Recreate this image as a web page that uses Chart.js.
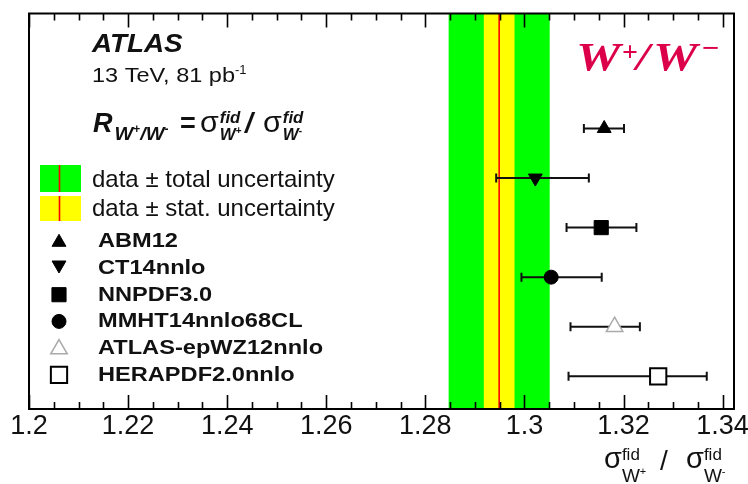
<!DOCTYPE html>
<html>
<head>
<meta charset="utf-8">
<title>W+/W- fiducial cross-section ratio</title>
<script src="https://cdn.jsdelivr.net/npm/chart.js@4.4.0/dist/chart.umd.min.js"></script>
<style>
  html, body { margin: 0; padding: 0; background: #fff; }
  canvas { display: block; }
</style>
</head>
<body>
<canvas id="ratio" width="748" height="484"></canvas>
<script>
// ---- measurement and predictions ----
const models = ['ABM12', 'CT14nnlo', 'NNPDF3.0', 'MMHT14nnlo68CL', 'ATLAS-epWZ12nnlo', 'HERAPDF2.0nnlo'];
const modelRatio = [1.3161, 1.3022, 1.3155, 1.3054, 1.3182, 1.3270];
const modelErrLow = [1.3120, 1.2943, 1.3085, 1.2994, 1.3093, 1.3089];
const modelErrHigh = [1.3201, 1.3130, 1.3226, 1.3156, 1.3233, 1.3368];

const dataRatio = 1.2949;
const dataStat = 0.0031;
const dataTotal = 0.0102;

const xTickValues = [1.2, 1.22, 1.24, 1.26, 1.28, 1.3, 1.32, 1.34];
const xTickLabels = ['1.2', '1.22', '1.24', '1.26', '1.28', '1.3', '1.32', '1.34'];

const SANS = '"Liberation Sans", Arial, sans-serif';
const SERIF = '"Liberation Serif", "Times New Roman", serif';
const INK = '#111';

// marker look for each model, same order as models
const markers = [
  { style: 'triangle', rot: 0,   r: 8,    fill: '#000', line: '#000', lw: 1 },
  { style: 'triangle', rot: 180, r: 8,    fill: '#000', line: '#000', lw: 1 },
  { style: 'rect',     rot: 0,   r: 10,   fill: '#000', line: '#000', lw: 1 },
  { style: 'circle',   rot: 0,   r: 7,    fill: '#000', line: '#000', lw: 1 },
  { style: 'triangle', rot: 0,   r: 9.5,  fill: '#fff', line: '#aaa', lw: 1.5 },
  { style: 'rect',     rot: 0,   r: 11.5, fill: '#fff', line: '#000', lw: 2 }
];

// minor ticks every 0.005, majors every 0.02
const minorTicks = [];
for (let k = 0; k <= 28; k++) minorTicks.push(+(1.2 + k * 0.005).toFixed(3));

function put(ctx, str, x, y, font, sx = 1, color = INK) {
  ctx.save();
  ctx.font = font;
  ctx.fillStyle = color;
  ctx.textBaseline = 'alphabetic';
  ctx.textAlign = 'left';
  ctx.translate(x, y);
  ctx.scale(sx, 1);
  ctx.fillText(str, 0, 0);
  const w = ctx.measureText(str).width * sx;
  ctx.restore();
  return x + w;
}

// sigma with stacked "fid" superscript and W± subscript
function sigma(ctx, x, base, o) {
  const e = put(ctx, 'σ', x, base, o.sigFont, o.sx);
  const a = put(ctx, 'fid', e + o.gap, base - o.up, o.supFont, o.sx);
  const w = put(ctx, 'W', e + o.gap, base + o.down, o.subFont, o.sx);
  const b = put(ctx, o.sign, w, base + o.down - o.signUp, o.signFont, 1);
  return Math.max(a, b);
}

function marker(ctx, m, x, y) {
  ctx.save();
  ctx.fillStyle = m.fill;
  ctx.strokeStyle = m.line;
  ctx.lineWidth = m.lw;
  Chart.helpers.drawPoint(ctx, { pointStyle: m.style, radius: m.r, rotation: m.rot, borderWidth: m.lw }, x, y);
  ctx.restore();
}

// data bands behind everything, then the model error bars
const bands = {
  id: 'bands',
  beforeDatasetsDraw(chart) {
    const { ctx, chartArea: a, scales: { x, y } } = chart;
    const px = v => x.getPixelForValue(v);
    ctx.save();
    ctx.fillStyle = '#00ff00';
    ctx.fillRect(px(dataRatio - dataTotal), a.top, px(dataRatio + dataTotal) - px(dataRatio - dataTotal), a.bottom - a.top);
    ctx.fillStyle = '#ffff00';
    ctx.fillRect(px(dataRatio - dataStat), a.top, px(dataRatio + dataStat) - px(dataRatio - dataStat), a.bottom - a.top);
    ctx.strokeStyle = '#ff0000';
    ctx.lineWidth = 1.6;
    ctx.beginPath();
    ctx.moveTo(px(dataRatio), a.top);
    ctx.lineTo(px(dataRatio), a.bottom);
    ctx.stroke();

    ctx.strokeStyle = INK;
    ctx.lineWidth = 2;
    models.forEach((m, i) => {
      const yy = y.getPixelForValue(i);
      const x0 = px(modelErrLow[i]), x1 = px(modelErrHigh[i]);
      ctx.beginPath();
      ctx.moveTo(x0, yy); ctx.lineTo(x1, yy);
      ctx.moveTo(x0, yy - 4.5); ctx.lineTo(x0, yy + 4.5);
      ctx.moveTo(x1, yy - 4.5); ctx.lineTo(x1, yy + 4.5);
      ctx.stroke();
    });
    ctx.restore();
  }
};

// frame with inward ticks on top and bottom
const frame = {
  id: 'frame',
  afterDatasetsDraw(chart) {
    const { ctx, chartArea: a, scales: { x } } = chart;
    ctx.save();
    ctx.strokeStyle = '#000';
    ctx.lineWidth = 1.6;
    ctx.beginPath();
    minorTicks.forEach((v, k) => {
      const xx = Math.round(x.getPixelForValue(v)) + 0.5;
      const len = k % 4 === 0 ? 14 : 7;
      ctx.moveTo(xx, a.bottom); ctx.lineTo(xx, a.bottom - len);
      ctx.moveTo(xx, a.top); ctx.lineTo(xx, a.top + len);
    });
    ctx.stroke();
    ctx.lineWidth = 2;
    ctx.strokeRect(a.left, a.top, a.right - a.left, a.bottom - a.top);
    ctx.restore();
  }
};

// labels, legend and axis title
const texts = {
  id: 'texts',
  afterDraw(chart) {
    const ctx = chart.ctx;

    put(ctx, 'ATLAS', 92, 52, 'italic bold 26px ' + SANS, 1.07);
    let e = put(ctx, '13 TeV, 81 pb', 92, 81.5, '21px ' + SANS, 1.12);
    put(ctx, '-1', e, 74, '13px ' + SANS);

    e = put(ctx, 'R', 93, 131.5, 'italic bold 27px ' + SANS);
    e = put(ctx, 'W', e + 2, 140, 'italic bold 18px ' + SANS, 1.1);
    e = put(ctx, '+', e, 133, 'bold 12px ' + SANS);
    e = put(ctx, '/W', e, 140, 'italic bold 18px ' + SANS, 1.1);
    put(ctx, '-', e, 133, 'bold 12px ' + SANS);
    put(ctx, '=', 180, 131.5, 'bold 27px ' + SANS);
    const rs = {
      sigFont: '29px ' + SANS, supFont: 'italic bold 16px ' + SANS, subFont: 'italic bold 16px ' + SANS,
      signFont: 'bold 10px ' + SANS, sx: 1.05, gap: 1, up: 9, down: 8, signUp: 6
    };
    sigma(ctx, 200, 131.5, Object.assign({ sign: '+' }, rs));
    put(ctx, '/', 245, 132, 'italic bold 28px ' + SANS);
    sigma(ctx, 263, 131.5, Object.assign({ sign: '-' }, rs));

    // legend: data bands
    ctx.fillStyle = '#00ff00';
    ctx.fillRect(40, 165, 41, 27);
    ctx.fillStyle = '#ffff00';
    ctx.fillRect(40, 196, 41, 25);
    ctx.strokeStyle = '#ff0000';
    ctx.lineWidth = 1.6;
    ctx.beginPath();
    ctx.moveTo(59.5, 165); ctx.lineTo(59.5, 192);
    ctx.moveTo(59.5, 196); ctx.lineTo(59.5, 221);
    ctx.stroke();
    put(ctx, 'data ± total uncertainty', 92, 187, '24px ' + SANS);
    put(ctx, 'data ± stat. uncertainty', 92, 215.5, '24px ' + SANS);

    // legend: predictions
    models.forEach((name, i) => {
      const base = 247.3 + i * 26.7;
      marker(ctx, markers[i], 59, base - 6 + (markers[i].rot ? -3 : 0) + (i === 0 || i === 4 ? 1 : 0));
      put(ctx, name, 98, base, 'bold 20px ' + SANS, 1.18);
    });

    // process label
    const red = '#dc004b';
    put(ctx, 'W', 576, 70, 'italic bold 41px ' + SERIF, 1.22, red);
    put(ctx, '+', 622, 61, 'bold 28px ' + SERIF, 1, red);
    put(ctx, '/', 636, 70, 'italic bold 41px ' + SERIF, 1.2, red);
    put(ctx, 'W', 653, 70, 'italic bold 41px ' + SERIF, 1.22, red);
    put(ctx, '\u2212', 702, 57, 'bold 28px ' + SERIF, 1.1, red);

    // x-axis title
    const ax = {
      sigFont: '29px ' + SANS, supFont: '17px ' + SANS, subFont: '19px ' + SANS,
      signFont: '11px ' + SANS, sx: 1, gap: 0, up: 8, down: 14, signUp: 7
    };
    sigma(ctx, 604, 468, Object.assign({ sign: '+' }, ax));
    put(ctx, '/', 660, 470, '28px ' + SANS);
    sigma(ctx, 686, 468, Object.assign({ sign: '-' }, ax));
  }
};

new Chart(document.getElementById('ratio'), {
  type: 'scatter',
  data: {
    datasets: [{
      label: 'predictions',
      data: models.map((m, i) => ({ x: modelRatio[i], y: i })),
      pointStyle: markers.map(m => m.style),
      rotation: markers.map(m => m.rot),
      radius: markers.map(m => m.r),
      backgroundColor: markers.map(m => m.fill),
      borderColor: markers.map(m => m.line),
      borderWidth: markers.map(m => m.lw)
    }]
  },
  options: {
    responsive: false,
    animation: false,
    events: [],
    layout: { padding: { left: 29, right: 14, top: 13, bottom: 0 } },
    plugins: { legend: { display: false }, tooltip: { enabled: false } },
    scales: {
      x: {
        type: 'linear',
        min: 1.2,
        max: 1.3423,
        grid: { display: false, drawTicks: false },
        border: { display: false },
        afterBuildTicks: s => { s.ticks = minorTicks.map(v => ({ value: v })); },
        afterFit: s => { s.height = 75; s.paddingLeft = 0; s.paddingRight = 0; },
        ticks: {
          autoSkip: false,
          maxRotation: 0,
          padding: 1,
          color: INK,
          font: { family: SANS, size: 27 },
          callback: v => {
            const j = xTickValues.findIndex(t => Math.abs(t - v) < 1e-6);
            return j >= 0 ? xTickLabels[j] : '';
          }
        }
      },
      y: { type: 'linear', reverse: true, min: -2.32, max: 5.66, display: false }
    }
  },
  plugins: [bands, frame, texts]
});
</script>
</body>
</html>
